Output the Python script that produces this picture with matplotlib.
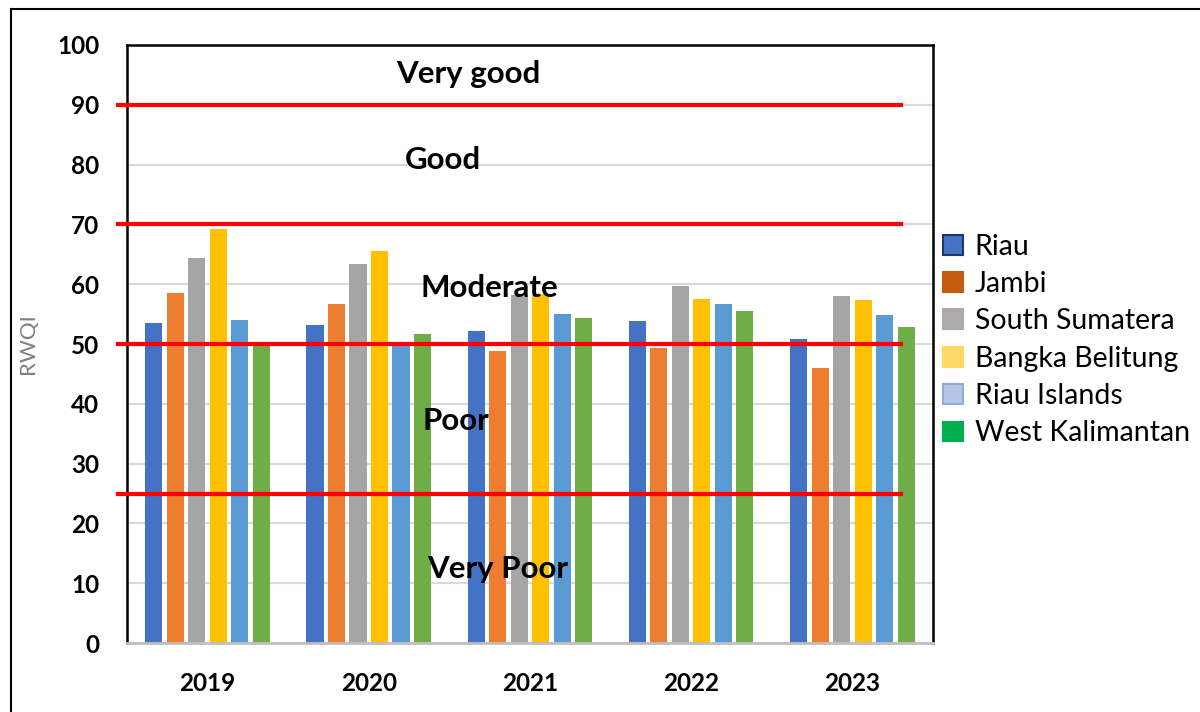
import matplotlib.pyplot as plt
import numpy as np
from matplotlib.patches import Patch
from matplotlib.lines import Line2D

years = ["2019", "2020", "2021", "2022", "2023"]
provinces = ["Riau", "Jambi", "South Sumatera", "Bangka Belitung", "Riau Islands", "West Kalimantan"]

riau = [53.5, 53.2, 52.2, 53.8, 50.8]
jambi = [58.5, 56.7, 48.9, 49.4, 46.0]
south_sumatera = [64.3, 63.3, 58.2, 59.7, 58.1]
bangka_belitung = [69.2, 65.6, 58.4, 57.6, 57.4]
riau_islands = [54.0, 49.8, 55.1, 56.7, 54.8]
west_kalimantan = [49.9, 51.6, 54.3, 55.5, 52.9]

thresholds = [90, 70, 50, 25]
classes = ["Very good", "Good", "Moderate", "Poor", "Very Poor"]

series = [riau, jambi, south_sumatera, bangka_belitung, riau_islands, west_kalimantan]
bar_colors = ['#4472C4', '#ED7D31', '#A5A5A5', '#FFC000', '#5B9BD5', '#70AD47']
legend_colors = ['#4472C4', '#C55A11', '#AEAAAA', '#FFD966', '#B4C7E7', '#00B050']
legend_edges = ['#1F3864', '#C55A11', '#AEAAAA', '#FFD966', '#8FAADC', '#00B050']

plt.rcParams['font.family'] = ['Lato', 'DejaVu Sans']

fig = plt.figure(figsize=(12, 7.12), dpi=100)
ax = fig.add_axes([0.1058, 0.0969, 0.6717, 0.8399])

x = np.arange(len(years))
pitch = 0.1334
for i, vals in enumerate(series):
    ax.bar(x + (i - 2.5) * pitch, vals, width=0.106, color=bar_colors[i], zorder=2)

# class boundaries
for t in thresholds:
    ax.plot([-0.556, 4.30], [t, t], color='red', lw=3, clip_on=False, zorder=3)

# class labels (x, y in data units)
label_pos = [(1.62, 95.1), (1.46, 80.8), (1.75, 59.4), (1.54, 37.1), (1.80, 12.4)]
for name, (lx, ly) in zip(classes, label_pos):
    ax.text(lx, ly, name, ha='center', va='center', fontsize=22.5, fontweight='bold', zorder=4)

ax.set_xlim(-0.5, 4.5)
ax.set_ylim(0, 100)
ax.set_yticks(range(0, 101, 10))
ax.set_xticks(x)
ax.set_xticklabels(years)
ax.tick_params(axis='both', length=0, labelsize=17.5)
ax.tick_params(axis='y', pad=20)
ax.tick_params(axis='x', pad=21)
for lab in ax.get_xticklabels() + ax.get_yticklabels():
    lab.set_fontweight('bold')
ax.grid(axis='y', color='#D9D9D9', lw=1.5, zorder=0)
ax.set_axisbelow(True)
for s in ['left', 'top', 'right']:
    ax.spines[s].set_color('black')
    ax.spines[s].set_linewidth(1.8)
ax.spines['bottom'].set_color('#BFBFBF')
ax.spines['bottom'].set_linewidth(2)
ax.set_ylabel('RWQI', color='#7F7F7F', fontsize=16, labelpad=14)

handles = [Patch(facecolor=c, edgecolor=e, lw=1.5) for c, e in zip(legend_colors, legend_edges)]
fig.legend(handles, provinces, loc='upper left', bbox_to_anchor=(0.786, 0.672), frameon=False,
           fontsize=20.5, handlelength=0.7, handleheight=0.7, handletextpad=0.4,
           labelspacing=0.4, borderpad=0, borderaxespad=0)

# outer frame
fig.add_artist(Line2D([0.0092, 0.0092], [0, 0.987], color='black', lw=1.5))
fig.add_artist(Line2D([0.0092, 1], [0.987, 0.987], color='black', lw=1.5))

fig.savefig('out.png', dpi=100)
